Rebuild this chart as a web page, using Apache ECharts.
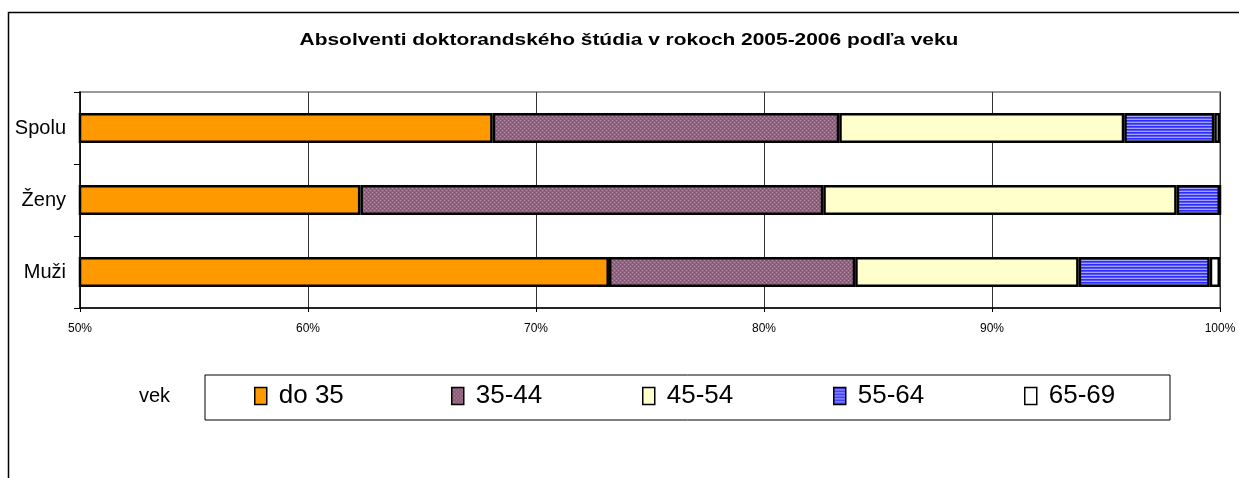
<!DOCTYPE html>
<html>
<head>
<meta charset="utf-8">
<script src="https://cdn.jsdelivr.net/npm/echarts@6/dist/echarts.min.js"></script>
<style>
html,body{margin:0;padding:0;background:#fff;}
#c{width:1239px;height:478px;}
</style>
</head>
<body>
<div id="c"></div>
<script>
const title = 'Absolventi doktorandského štúdia v rokoch 2005-2006 podľa veku';
const categories = ['Muži', 'Ženy', 'Spolu'];
const seriesNames = ['do 35', '35-44', '45-54', '55-64', '65-69'];
// percentages per category in order [Muži, Ženy, Spolu]
const do35 = [73.2, 62.3, 68.1];
const age35_44 = [10.8, 20.3, 15.2];
const age45_54 = [9.8, 15.5, 12.5];
const age55_64 = [5.75, 1.9, 3.95];
const age65_69 = [0.45, 0, 0.25];
const tickLabels = ['50%', '60%', '70%', '80%', '90%', '100%'];
const legendTitle = 'vek';

function makePattern(w, h, draw) {
  const c = document.createElement('canvas');
  c.width = w; c.height = h;
  const ctx = c.getContext('2d');
  draw(ctx);
  return { image: c, repeat: 'repeat' };
}
const mauve = makePattern(4, 4, ctx => {
  ctx.fillStyle = '#93627f'; ctx.fillRect(0, 0, 4, 4);
  ctx.fillStyle = '#b892aa';
  ctx.fillRect(0, 0, 1, 1); ctx.fillRect(2, 2, 1, 1);
  ctx.fillStyle = '#7c4e6b';
  ctx.fillRect(2, 0, 1, 1); ctx.fillRect(0, 2, 1, 1);
});
const blueStripe = makePattern(4, 3, ctx => {
  ctx.fillStyle = '#2d2dff'; ctx.fillRect(0, 0, 4, 1);
  ctx.fillStyle = '#5555ff'; ctx.fillRect(0, 1, 4, 1);
  ctx.fillStyle = '#a3a3ff'; ctx.fillRect(0, 2, 4, 1);
});
const colors = ['#ff9900', mauve, '#ffffcc', blueStripe, '#ffffff'];
const values = [do35, age35_44, age45_54, age55_64, age65_69];

const font = 'Liberation Sans, Arial, sans-serif';
const legendX = [254, 451, 642, 833, 1024];

const chart = echarts.init(document.getElementById('c'), null, { renderer: 'canvas' });
chart.setOption({
  animation: false,
  backgroundColor: '#ffffff',
  grid: {
    left: 80, right: 19, top: 92, bottom: 170,
    show: true, borderColor: '#9a9a9a', borderWidth: 2, backgroundColor: 'transparent'
  },
  xAxis: {
    type: 'value', min: 50, max: 100, interval: 10,
    axisLine: { show: true, lineStyle: { color: '#000', width: 1.5 } },
    axisTick: { show: true, length: 4, lineStyle: { color: '#000' } },
    splitLine: { show: true, lineStyle: { color: '#333', width: 1 } },
    axisLabel: {
      margin: 15, fontFamily: font, fontSize: 12, color: '#000',
      formatter: v => tickLabels[Math.round((v - 50) / 10)]
    }
  },
  yAxis: {
    type: 'category', data: categories,
    axisLine: { show: true, lineStyle: { color: '#000', width: 1.5 } },
    axisTick: { show: true, length: 6, lineStyle: { color: '#000' } },
    axisLabel: { margin: 14, fontFamily: font, fontSize: 20, color: '#000' }
  },
  legend: seriesNames.map((n, i) => ({
    data: [{ name: n, icon: 'rect' }], left: legendX[i], top: 383, padding: 0,
    itemWidth: 12, itemHeight: 17, itemGap: 0,
    itemStyle: { borderColor: '#000', borderWidth: 1.5 },
    textStyle: { fontFamily: font, fontSize: 26, color: '#000', padding: [0, 0, 0, 7] },
    selectedMode: false
  })),
  graphic: [
    { type: 'rect', shape: { x: 8.5, y: 12.5, width: 1300, height: 600 },
      style: { fill: 'none', stroke: '#000', lineWidth: 1.5 }, z: -1 },
    { type: 'rect', shape: { x: 205, y: 375, width: 965, height: 45 },
      style: { fill: 'none', stroke: '#000', lineWidth: 1 }, z: -1 },
    { type: 'text', x: 629, y: 40, scaleX: 1.23,
      style: { text: title, fontFamily: font, fontSize: 17, fontWeight: 'bold', fill: '#000',
               textAlign: 'center', textVerticalAlign: 'middle' } },
    { type: 'text', x: 139, y: 396,
      style: { text: legendTitle, fontFamily: font, fontSize: 20, fill: '#000',
               textAlign: 'left', textVerticalAlign: 'middle' } }
  ],
  series: seriesNames.map((n, i) => ({
    name: n, type: 'bar', stack: 'total', data: values[i],
    barWidth: 30,
    itemStyle: { color: colors[i], borderColor: '#000', borderWidth: 2.5 },
    emphasis: { disabled: true }
  }))
});
</script>
</body>
</html>
